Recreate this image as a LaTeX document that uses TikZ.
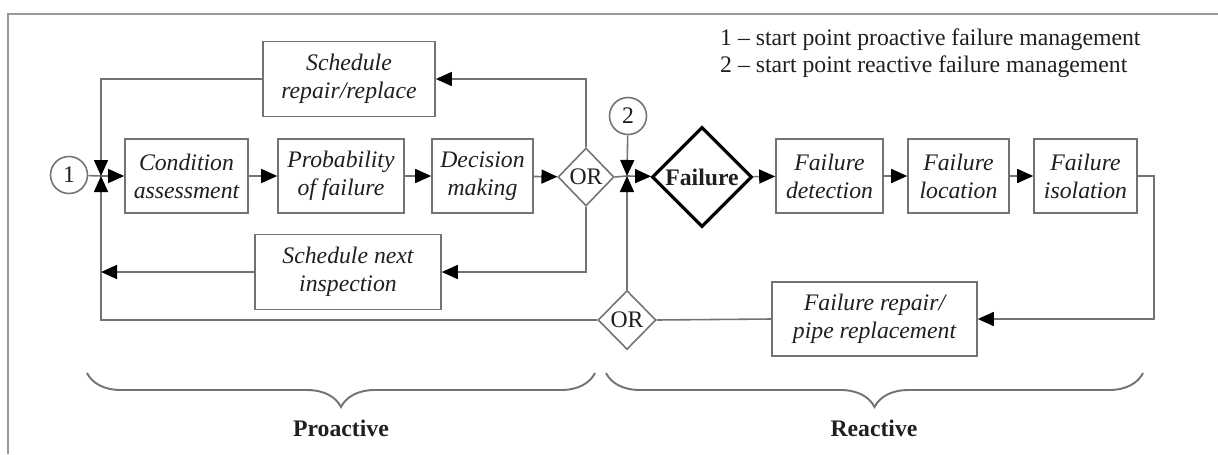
\documentclass[tikz,border=0pt]{standalone}
\usepackage{fontspec}
\setmainfont{Liberation Serif}
\usetikzlibrary{shapes.geometric,arrows.meta,decorations.pathreplacing}

\definecolor{linegray}{gray}{0.45}
\definecolor{framegray}{gray}{0.6}
\definecolor{txtgray}{gray}{0.12}

\tikzset{
  box/.style={draw=linegray, line width=0.9pt, align=center, inner sep=1pt,
    minimum height=1.48cm, text=txtgray,
    font=\fontsize{13.5}{16}\selectfont\itshape},
  ornode/.style={diamond, draw=linegray, line width=0.9pt, inner sep=0pt,
    minimum width=1.12cm, minimum height=1.16cm, text=txtgray,
    font=\fontsize{13.5}{16}\selectfont},
  startpt/.style={circle, draw=linegray, line width=0.9pt, inner sep=0pt,
    minimum size=0.74cm, text=txtgray, font=\fontsize{13.5}{16}\selectfont},
  link/.style={draw=linegray, line width=0.9pt},
  arr/.style={-{Triangle[length=3.2mm,width=2.8mm,fill=black,color=black]}},
  curly/.style={draw=linegray, line width=1.1pt, decorate,
    decoration={brace, mirror, amplitude=0.68cm}}
}

\begin{document}
\begin{tikzpicture}

\useasboundingbox (0,0) rectangle (24.36,9.08);

% cornice
\draw[framegray, line width=1.2pt] (0.16,0) -- (0.16,8.80) -- (24.36,8.80);

% legenda
\node[anchor=west, align=left, text=txtgray, font=\fontsize{13.5}{15.5}\selectfont]
  (legend) at (14.28,8.02)
  {1 -- start point proactive failure management\\
   2 -- start point reactive failure management};

% ramo proattivo
\node[startpt] (circ1) at (1.38,5.58) {1};
\coordinate (j1) at (2.02,5.56);

\node[box, minimum width=2.46cm] (cond) at (3.73,5.56) {Condition\\assessment};
\node[box, minimum width=2.52cm] (prob) at (6.82,5.56) {Probability\\of failure};
\node[box, minimum width=2.02cm] (dec) at (9.65,5.56) {Decision\\making};
\node[ornode] (or1) at (11.72,5.54) {OR};

\node[box, minimum width=3.44cm, minimum height=1.5cm] (repl) at (6.98,7.50)
  {Schedule\\repair/replace};
\node[box, minimum width=3.72cm, minimum height=1.5cm] (next) at (6.96,3.64)
  {Schedule next\\inspection};

% ramo reattivo
\node[startpt] (circ2) at (12.56,6.76) {2};
\coordinate (j2) at (12.54,5.56);

\node[diamond, draw=black, line width=1.8pt, inner sep=0pt,
  minimum width=2.0cm, minimum height=2.0cm, text=txtgray,
  font=\fontsize{13.5}{16}\selectfont\bfseries] (fail) at (14.04,5.54) {Failure};

\node[box, minimum width=2.14cm] (det) at (16.59,5.56) {Failure\\detection};
\node[box, minimum width=2.02cm] (loc) at (19.17,5.56) {Failure\\location};
\node[box, minimum width=2.06cm] (iso) at (21.71,5.56) {Failure\\isolation};

\node[box, minimum width=4.10cm] (rep) at (17.49,2.70)
  {Failure repair/\\pipe replacement};
\node[ornode, minimum width=1.16cm, minimum height=1.18cm] (or2) at (12.54,2.68) {OR};

% collegamenti
\draw[link] (circ1) -- (j1);
\draw[link, arr] (j1) -- (cond);
\draw[link, arr] (cond) -- (prob);
\draw[link, arr] (prob) -- (dec);
\draw[link, arr] (dec) -- (or1);

\draw[link, arr] (or1.north) |- (repl.east);
\draw[link, arr] (repl.west) -| (j1);
\draw[link, arr] (or1.south) |- (next.east);
\draw[link, arr] (next.west) -- (next.west -| j1);

\draw[link] (or1.east) -- (j2);
\draw[link, arr] (circ2) -- (j2);
\draw[link, arr] (or2.north) -- (j2);
\draw[link, arr] (j2) -- (fail);
\draw[link, arr] (fail) -- (det);
\draw[link, arr] (det) -- (loc);
\draw[link, arr] (loc) -- (iso);

\draw[link, arr] (iso.east) -- ++(0.32,0) |- (rep.east);
\draw[link] (rep.west) -- (or2.east);
\draw[link, arr] (or2.west) -| (j1);

% graffe
\draw[curly] (1.74,1.62) -- (11.90,1.62);
\draw[curly] (12.12,1.62) -- (22.86,1.62);

\node[font=\fontsize{13.5}{16}\selectfont\bfseries, text=txtgray] (proact) at (6.82,0.52) {Proactive};
\node[font=\fontsize{13.5}{16}\selectfont\bfseries, text=txtgray] (react) at (17.48,0.52) {Reactive};

\end{tikzpicture}
\end{document}
